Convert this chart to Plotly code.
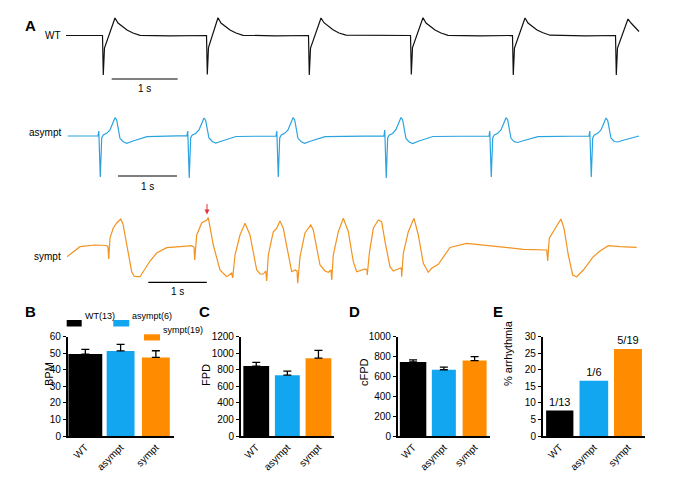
import plotly.graph_objects as go

# ------------------------------------------------------------------ data
# Panel A traces: time (s) and amplitude (arbitrary units, baseline = 0)
wt_t = [0, 0.553, 0.565, 0.583, 0.742, 0.788, 0.924, 1.015, 1.121, 1.576,
        2.129, 2.141, 2.159, 2.303, 2.348, 2.485, 2.576, 2.682, 3.167,
        3.674, 3.686, 3.705, 3.864, 3.909, 4.045, 4.136, 4.242, 4.758,
        5.220, 5.232, 5.250, 5.409, 5.455, 5.591, 5.682, 5.788, 6.273,
        6.765, 6.777, 6.795, 6.955, 7.000, 7.136, 7.227, 7.333, 7.864,
        8.326, 8.338, 8.356, 8.515, 8.561, 8.682]
wt_v = [0, 0, -39.5, -12.5, 17.5, 12.5, 5.5, 2.5, 0.2, -0.3,
        0, -39.0, -12.0, 17.8, 12.5, 5.5, 2.5, 0.2, -0.3,
        0, -39.5, -12.5, 17.5, 12.8, 5.8, 2.5, 0.4, -0.2,
        0, -39.0, -12.0, 17.8, 12.5, 5.5, 2.5, 0.2, -0.3,
        0, -39.5, -12.5, 17.5, 12.5, 5.5, 2.7, 0.3, -0.3,
        0, -39.5, -12.5, 16.5, 12.5, 4.0]

asy_t = [0.010,
         0.525, 0.539, 0.564, 0.588, 0.615, 0.673, 0.729, 0.775, 0.814, 0.842, 0.869, 0.898, 0.954, 1.012, 1.119, 1.356,
         2.033, 2.047, 2.072, 2.096, 2.123, 2.181, 2.237, 2.283, 2.322, 2.350, 2.377, 2.406, 2.462, 2.520, 2.627, 2.864,
         3.542, 3.556, 3.581, 3.605, 3.632, 3.690, 3.746, 3.792, 3.831, 3.859, 3.886, 3.915, 3.971, 4.029, 4.136, 4.373,
         5.372, 5.386, 5.411, 5.435, 5.462, 5.520, 5.576, 5.622, 5.661, 5.689, 5.716, 5.745, 5.801, 5.859, 5.966, 6.203,
         7.152, 7.166, 7.191, 7.215, 7.242, 7.300, 7.356, 7.402, 7.441, 7.469, 7.496, 7.525, 7.581, 7.639, 7.746, 7.983,
         8.847, 8.861, 8.886, 8.910, 8.937, 8.995, 9.051, 9.097, 9.136, 9.164, 9.191, 9.220, 9.276, 9.334, 9.441, 9.695]
asy_v = [0.0,
         0, 5, -41, -2, 1, 2.7, 6, 12.7, 18.3, 16, 6, -2.3, -5.7, -7.3, -5, -0.7,
         0.3, 5, -42, -2, 1, 2.5, 6, 12.5, 18.0, 15.5, 6, -2.0, -5.5, -7.0, -5, -0.5,
         0, 5, -41, -2, 1, 2.7, 6, 12.7, 18.3, 16, 6, -2.3, -5.7, -7.3, -5, -0.7,
         0.2, 6, -42, -2, 1, 2.5, 6.5, 13.0, 18.5, 16, 6, -2.5, -6.0, -7.5, -5, -0.5,
         0, 5, -41, -2, 1, 2.7, 6, 12.7, 18.3, 16, 6, -2.3, -5.7, -6.5, -4.5, -0.7,
         0, 5, -41, -2, 1, 2.7, 6, 12.0, 18.0, 15.5, 6, -2.0, -5.5, -6.0, -4.0, 0.0]

sym_pts = [
    (0.000, -6.7), (0.222, 3.3), (0.479, 5.0), (0.679, 4.5), (0.701, 3.0), (0.713, -9.0),
    (0.735, 12.0), (0.791, 22.0), (0.850, 27.0), (0.918, 31.0), (0.957, 26.0), (1.026, 5.0),
    (1.106, -21.7), (1.145, -26.0), (1.191, -26.7), (1.248, -26.7), (1.362, -16.7), (1.419, -11.0),
    (1.533, -3.0), (1.704, 2.3), (1.932, 3.3), (2.132, 4.3), (2.171, 3.0), (2.183, -10.0),
    (2.217, 15.0), (2.303, 27.0), (2.388, 30.0), (2.415, 32.3), (2.501, 5.0), (2.615, -20.0),
    (2.730, -26.7), (2.815, -23.0), (2.832, -28.0), (2.872, -5.0), (2.957, 15.0), (3.043, 26.7),
    (3.128, 15.0), (3.243, -20.0), (3.299, -24.0), (3.356, -24.0), (3.397, -21.0), (3.414, -31.0),
    (3.441, -5.0), (3.526, 18.3), (3.585, 21.7), (3.641, 29.0), (3.697, 21.7), (3.783, -5.0),
    (3.841, -21.7), (3.897, -20.0), (3.932, -21.0), (3.944, -33.3), (3.983, -6.7), (4.068, 17.0),
    (4.166, 25.0), (4.210, 20.0), (4.325, -15.0), (4.410, -21.0), (4.467, -22.3), (4.513, -20.0),
    (4.525, -30.0), (4.552, -5.0), (4.638, 18.3), (4.723, 31.7), (4.809, 18.3), (4.894, -11.7),
    (4.952, -21.7), (5.094, -19.0), (5.128, -20.0), (5.133, -25.0), (5.168, -3.3), (5.236, 21.7),
    (5.321, 30.0), (5.379, 28.3), (5.436, 8.3), (5.521, -16.7), (5.578, -21.0), (5.692, -18.3),
    (5.715, -18.0), (5.721, -26.7), (5.749, -3.3), (5.834, 18.3), (5.932, 31.7), (6.005, 15.0),
    (6.091, -13.3), (6.176, -22.3), (6.234, -18.3), (6.347, -14.3), (6.462, -5.0), (6.547, 2.5),
    (6.832, 6.7), (7.231, 4.3), (7.516, 2.3), (7.800, 0.7), (8.200, 0.0), (8.217, -11.0),
    (8.244, 11.7), (8.313, 18.3), (8.444, 31.0), (8.496, 21.7), (8.569, -5.0), (8.644, -25.0),
    (8.713, -26.7), (8.826, -20.0), (8.997, -6.7), (9.111, -1.0), (9.253, 4.3), (9.453, 3.3),
    (9.738, 2.7),
]
sym_t = [p[0] for p in sym_pts]
sym_v = [p[1] for p in sym_pts]

# Panels B-E
groups = ["WT", "asympt", "sympt"]
legend_labels = ["WT(13)", "asympt(6)", "sympt(19)"]
bpm_mean = [49.5, 51.4, 47.5]
bpm_sem = [2.9, 4.0, 4.0]
fpd_mean = [845, 735, 940]
fpd_sem = [45, 50, 95]
cfpd_mean = [745, 667, 760]
cfpd_sem = [22, 26, 40]
arr_pct = [7.7, 16.7, 26.3]
arr_text = ["1/13", "1/6", "5/19"]

# ------------------------------------------------------------------ layout helpers
# The page body has an 8 px margin, so the figure is shifted by that margin and
# every position (measured in window pixels) is converted accordingly.
WIN_W, WIN_H = 685, 478
OFF = 8
W, H = WIN_W - OFF, WIN_H - OFF
FONT = "Arial, Liberation Sans, sans-serif"
BLACK = "#000000"
BLUE = "#12a5f0"
ORANGE = "#ff8c00"
BAR_COLORS = [BLACK, BLUE, ORANGE]


def px(x):
    return (x - OFF) / W


def py(y):
    return 1 - (y - OFF) / H


fig = go.Figure()

# ---- Panel A traces
trace_specs = [
    # (t, v, color, axis suffix, x px domain, y px domain, px/sec, baseline px)
    (wt_t, wt_v, "#111111", "", (66, 640), (10, 95), 66.0, 35.5),
    (asy_t, asy_v, "#2aa3df", "2", (67, 640), (105, 192), 59.0, 136.0),
    (sym_t, sym_v, "#f2931f", "3", (67, 640), (196, 298), 58.5, 250.0),
]
layout_axes = {}
for t, v, col, sfx, xd, yd, pps, base in trace_specs:
    fig.add_trace(go.Scatter(x=t, y=v, mode="lines", line=dict(color=col, width=1.2),
                             xaxis="x" + sfx, yaxis="y" + sfx, hoverinfo="skip"))
    layout_axes["xaxis" + sfx] = dict(domain=[px(xd[0]), px(xd[1])],
                                      range=[0, (xd[1] - xd[0]) / pps], automargin=False,
                                      visible=False, anchor="y" + sfx)
    layout_axes["yaxis" + sfx] = dict(domain=[py(yd[1]), py(yd[0])],
                                      range=[base - yd[1], base - yd[0]], automargin=False,
                                      visible=False, anchor="x" + sfx)

annotations = []
shapes = []

# scale bars (1 s) and labels
scalebars = [("", 0.692, -43.5, -52.5), ("2", 0.864, -40.0, -50.0), ("3", 1.390, -32.3, -41.0)]
for sfx, t0, yb, yt in scalebars:
    fig.add_trace(go.Scatter(x=[t0, t0 + 1.0], y=[yb, yb], mode="lines",
                             line=dict(color=BLACK, width=1.2),
                             xaxis="x" + sfx, yaxis="y" + sfx, hoverinfo="skip"))
    annotations.append(dict(x=t0 + 0.5, y=yt, xref="x" + sfx, yref="y" + sfx, text="1 s",
                            showarrow=False, font=dict(size=10, color=BLACK, family=FONT)))

# trace labels
for name, sfx, yv in [("WT", "", 0.5), ("asympt", "2", 4.0), ("sympt", "3", -6.0)]:
    annotations.append(dict(x=px(63), y=yv, xref="paper", yref="y" + sfx, text=name,
                            xanchor="right", showarrow=False,
                            font=dict(size=10, color=BLACK, family=FONT)))

# red arrow
annotations.append(dict(x=2.393, y=35.5, xref="x3", yref="y3", ax=2.393, ay=47.5,
                        axref="x3", ayref="y3", showarrow=True, arrowhead=2,
                        arrowsize=1, arrowwidth=1, arrowcolor="#e2323c", text=""))

# ---- Panels B-E bars
bar_specs = [
    # (means, errors, axis sfx, x px domain, ymax, dtick, title, title x px, widths, text)
    (bpm_mean, bpm_sem, "4", (67.7, 173.5), 60, 10, "BPM", 41, [0.96, 0.79, 0.79], None),
    (fpd_mean, fpd_sem, "5", (240.7, 334), 1200, 200, "FPD", 198, [0.83, 0.8, 0.83], None),
    (cfpd_mean, cfpd_sem, "6", (397.7, 490), 1000, 200, "cFPD", 364, [0.86, 0.78, 0.78], None),
    (arr_pct, None, "7", (542.7, 645), 30, 5, "% arrhythmia", 516, [0.8, 0.84, 0.82], arr_text),
]
Y_TOP, Y_BOT = 336.7, 436.0
for vals, errs, sfx, xd, ymax, dt, title, tx, widths, txt in bar_specs:
    kw = {}
    if errs is not None:
        kw["error_y"] = dict(type="data", symmetric=False, array=errs,
                             arrayminus=[0] * len(errs), color=BLACK, thickness=1.3, width=4)
    if txt is not None:
        kw["text"] = txt
        kw["textposition"] = "outside"
        kw["textfont"] = dict(size=11, color=BLACK, family=FONT)
        kw["cliponaxis"] = False
    fig.add_trace(go.Bar(x=groups, y=vals, marker=dict(color=BAR_COLORS, line=dict(width=0)),
                         width=widths, xaxis="x" + sfx, yaxis="y" + sfx, hoverinfo="skip", **kw))
    layout_axes["xaxis" + sfx] = dict(domain=[px(xd[0]), px(xd[1])], anchor="y" + sfx,
                                      type="category", range=[-0.5, 2.5], automargin=False,
                                      showline=True, linecolor=BLACK, linewidth=1.5,
                                      ticks="", tickangle=-45, showgrid=False, zeroline=False,
                                      tickfont=dict(size=10, color=BLACK, family=FONT))
    layout_axes["yaxis" + sfx] = dict(domain=[py(Y_BOT), py(Y_TOP)], anchor="x" + sfx,
                                      range=[0, ymax], dtick=dt, tick0=0, automargin=False,
                                      showline=True, linecolor=BLACK, linewidth=1.5,
                                      ticks="outside", ticklen=3, tickwidth=1.3, tickcolor=BLACK,
                                      showgrid=False, zeroline=False,
                                      tickfont=dict(size=10, color=BLACK, family=FONT))
    annotations.append(dict(x=px(tx), y=py(388), xref="paper", yref="paper", text=title,
                            textangle=-90, showarrow=False,
                            font=dict(size=11, color=BLACK, family=FONT)))

# panel letters
for letter, lx, ly in [("A", 23, 15), ("B", 23, 322), ("C", 197, 322), ("D", 354, 322), ("E", 505, 322)]:
    annotations.append(dict(x=px(lx), y=py(ly), xref="paper", yref="paper", text="<b>%s</b>" % letter,
                            showarrow=False, font=dict(size=15, color=BLACK, family=FONT)))

# legend for panel B (manual)
legend_pos = [((66.7, 320, 81.7, 326.5), 82.5, 323.3),
              ((113.3, 320, 129.3, 326.5), 130, 323.3),
              ((144, 334.3, 160, 340.5), 161, 337.4)]
for (rect, tx, ty), lab, col in zip(legend_pos, legend_labels, BAR_COLORS):
    shapes.append(dict(type="rect", xref="paper", yref="paper",
                       x0=px(rect[0]), x1=px(rect[2]), y0=py(rect[3]), y1=py(rect[1]),
                       fillcolor=col, line=dict(width=0)))
    annotations.append(dict(x=px(tx), y=py(ty), xref="paper", yref="paper", text=lab,
                            xanchor="left", showarrow=False,
                            font=dict(size=9, color=BLACK, family=FONT)))

fig.update_layout(
    width=W, height=H, autosize=False,
    margin=dict(l=0, r=0, t=0, b=0, pad=0),
    paper_bgcolor="white", plot_bgcolor="rgba(0,0,0,0)",
    showlegend=False, bargap=0.2,
    font=dict(family=FONT, color=BLACK),
    annotations=annotations, shapes=shapes,
    **layout_axes,
)

fig.write_html("out.html")
